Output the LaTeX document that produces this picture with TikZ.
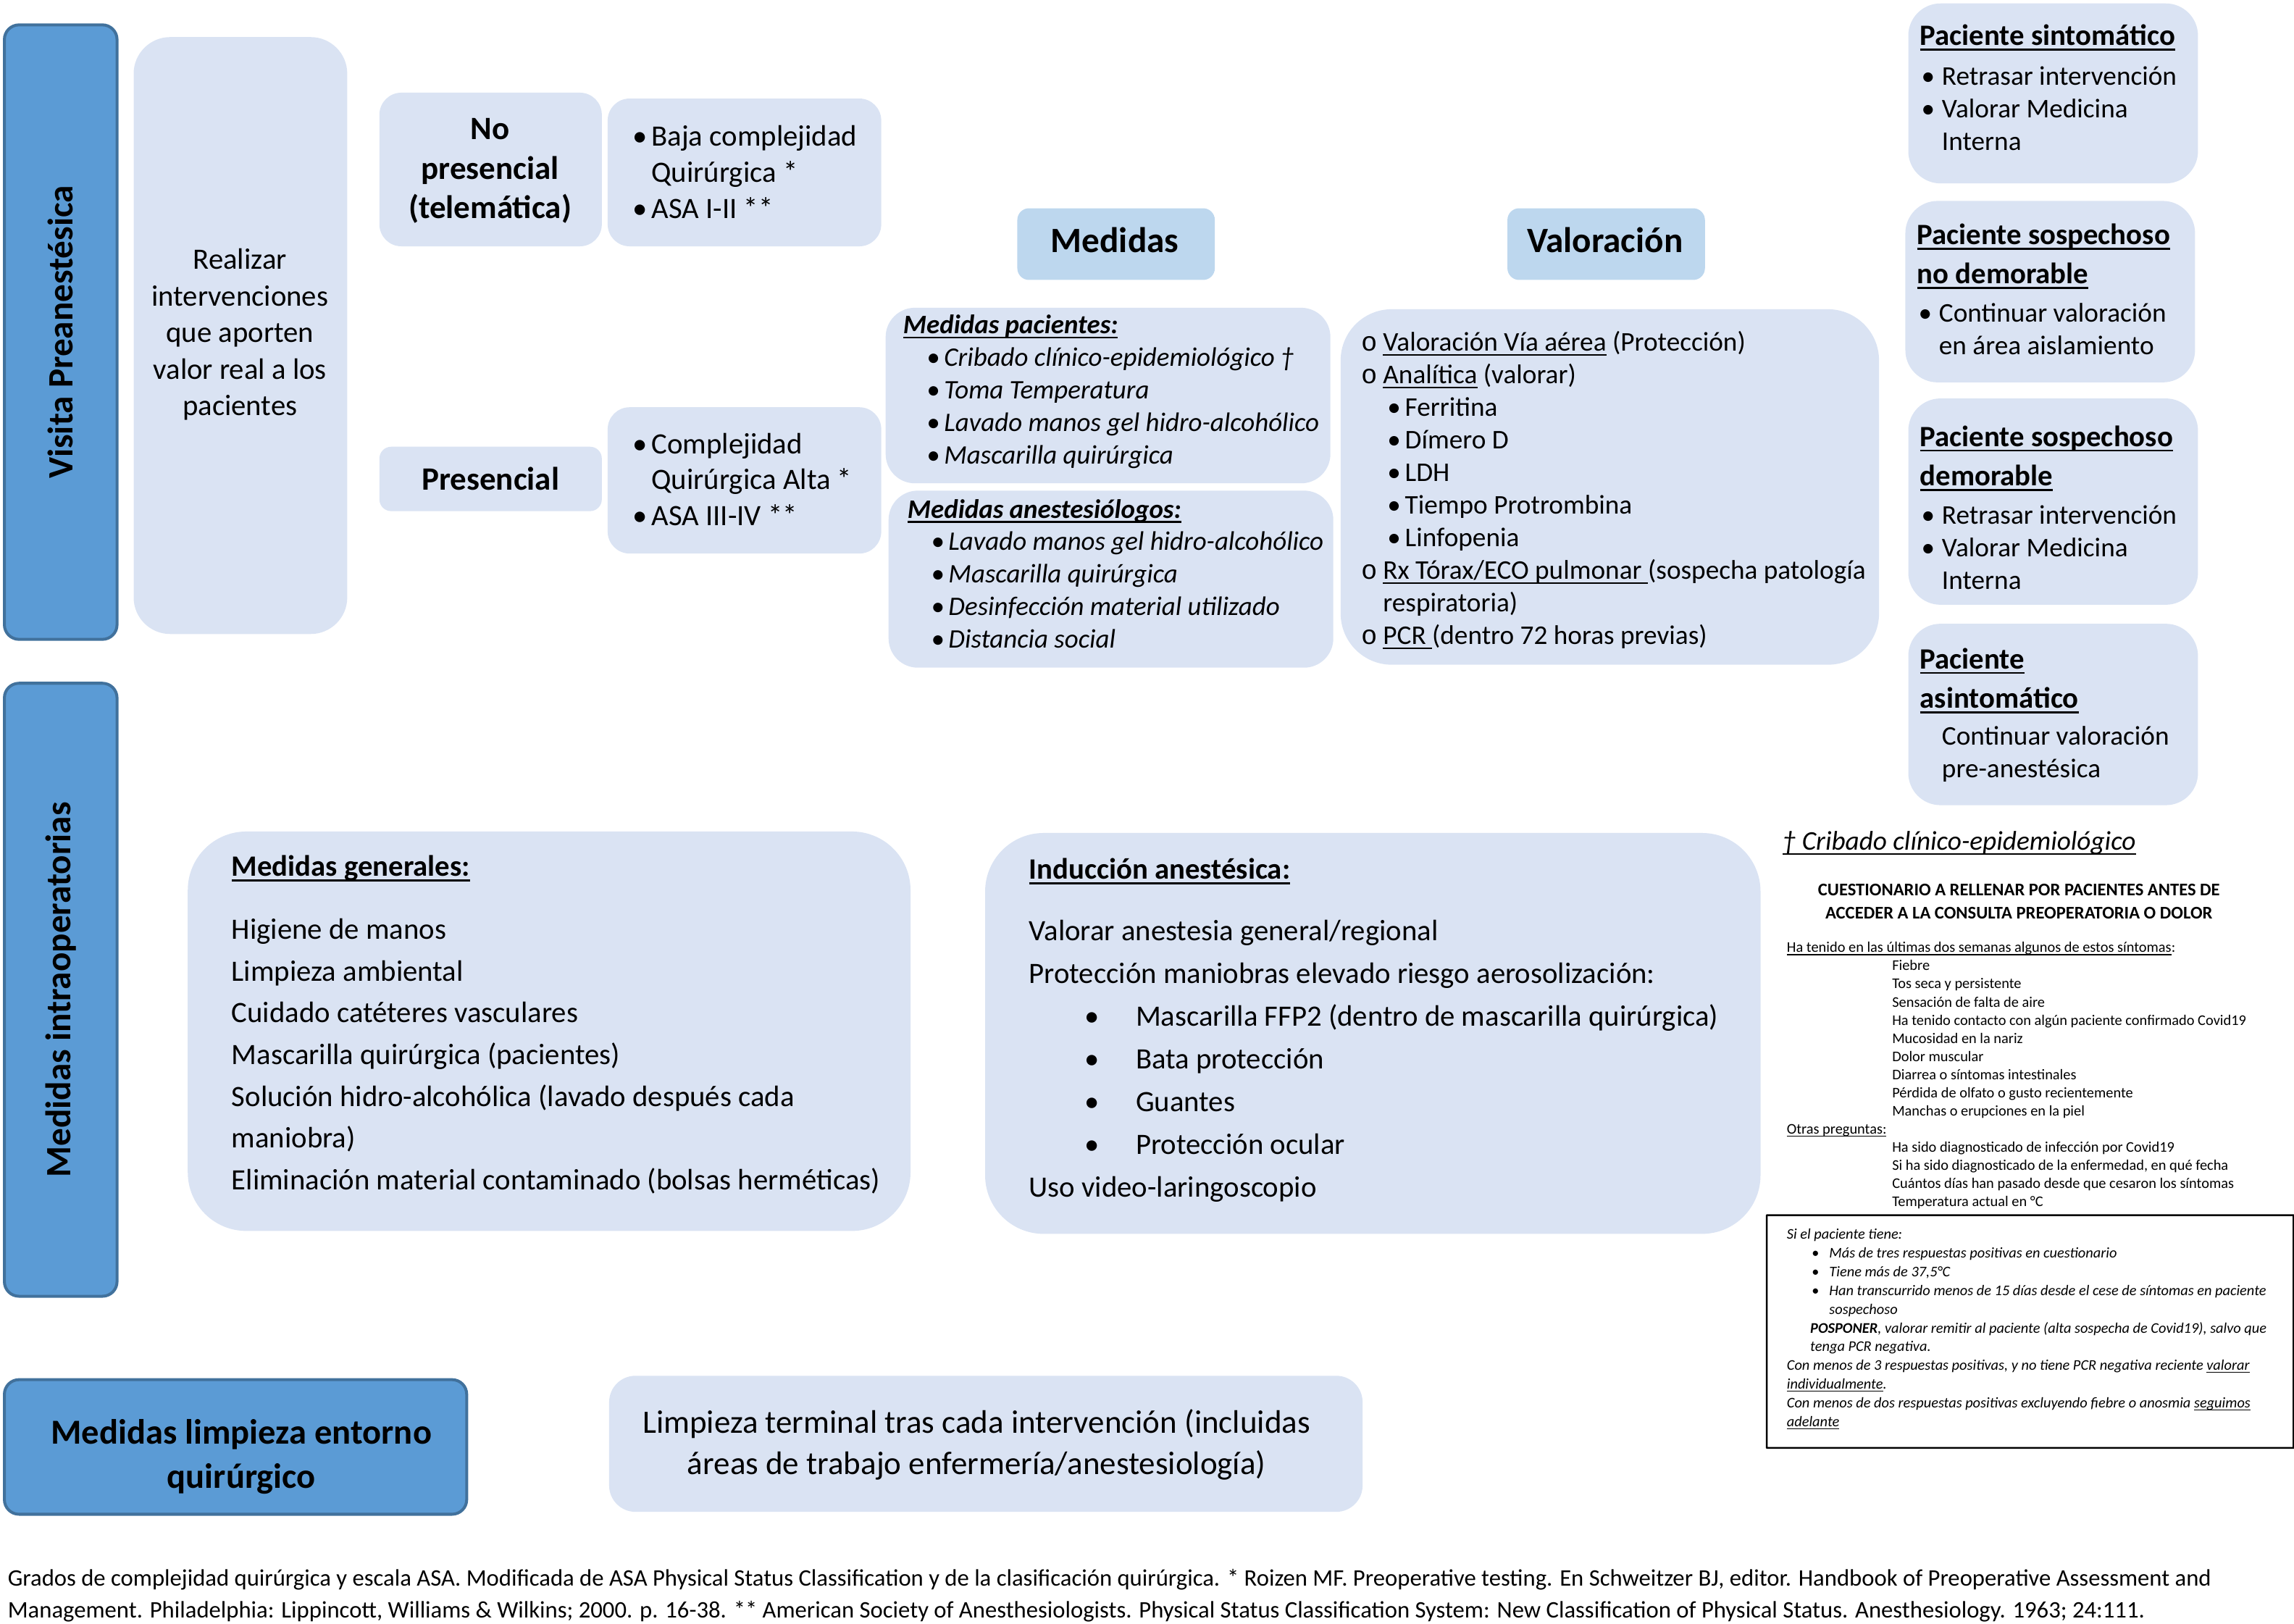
\documentclass[tikz,border=0pt]{standalone}
\usepackage{fontspec}
\setmainfont{Carlito}
\newfontfamily\monof{Liberation Mono}
\newlength\tpx \setlength\tpx{0.020198cm}
\definecolor{dkb}{HTML}{5B9BD5}
\definecolor{dkbd}{HTML}{41719C}
\definecolor{lb}{HTML}{DAE3F3}
\definecolor{hb}{HTML}{BDD7EE}
\newsavebox\ulbox
\newcommand{\ulx}[1]{\sbox\ulbox{#1}\rlap{\rule[-0.18em]{\wd\ulbox}{0.07em}}\usebox\ulbox}
\newcommand{\fs}[2]{\fontsize{#1}{#2}\selectfont}
\newcommand{\bul}[1]{\makebox[#1\tpx][l]{•}}
\newcommand{\sk}[1]{\hspace*{#1\tpx}}
\newcommand{\ob}{\makebox[15\tpx][l]{\monof o}}
\newcommand{\bx}[7]{\node[#2, rounded corners=#7\tpx, minimum width={(#5-#3)*\tpx}, minimum height={(#6-#4)*\tpx}, inner sep=0pt, anchor=north west] (#1) at (#3,#4) {};}
\tikzset{
  dark/.style={fill=dkb, draw=dkbd, line width=2\tpx},
  light/.style={fill=lb, draw=none},
  head/.style={fill=hb, draw=none},
  qframe/.style={draw=black, line width=0.7pt, fill=none},
  tb/.style={inner sep=0pt, anchor=base west},
  tc/.style={inner sep=0pt, anchor=center},
}
\begin{document}
\begin{tikzpicture}[x=0.020198cm, y=-0.020198cm]
\useasboundingbox (0,0) rectangle (1568,1110);
% ---------- boxes ----------
\bx{vp}{dark}{2}{16}{79}{436}{10}
\bx{real}{light}{91}{25}{237}{433}{25}
\bx{nop}{light}{259}{63}{411}{168}{15}
\bx{baja}{light}{415}{67}{602}{168}{15}
\bx{pres}{light}{259}{305}{411}{349}{8}
\bx{alta}{light}{415}{278}{602}{378}{15}
\bx{hmed}{head}{695}{142}{830}{191}{8}
\bx{hval}{head}{1030}{142}{1165}{191}{8}
\bx{mpac}{light}{605}{210}{909}{330}{20}
\bx{mane}{light}{607}{335}{911}{456}{20}
\bx{val}{light}{916}{211}{1284}{454}{35}
\bx{psin}{light}{1304}{2}{1502}{125}{22}
\bx{pnd}{light}{1302}{137}{1500}{261}{22}
\bx{pdem}{light}{1304}{272}{1502}{413}{22}
\bx{pasi}{light}{1304}{426}{1502}{550}{22}
\bx{qbox}{qframe}{1207}{830}{1567}{989}{0.1}
\bx{mi}{dark}{2}{466}{79}{885}{10}
\bx{mgen}{light}{128}{568}{622}{841}{40}
\bx{ind}{light}{673}{569}{1203}{843}{40}
\bx{mlq}{dark}{2}{942}{318}{1034}{10}
\bx{lim}{light}{416}{940}{931}{1033}{18}
% ---------- left column ----------
\node[rotate=90, inner sep=0pt, font=\bfseries\fs{14}{17}] (tvp) at (vp.center) {Visita Preanestésica};
\node[rotate=90, inner sep=0pt, font=\bfseries\fs{14}{17}] (tmi) at (mi.center) {Medidas intraoperatorias};
\node[tc] (tmlq) at (165,996) {\bfseries\fs{13.8}{17.2}\begin{tabular}{@{}c@{}}Medidas limpieza entorno\\quirúrgico\end{tabular}};
\node[tc] (treal) at (164,229) {\fs{11.6}{14.4}\begin{tabular}{@{}c@{}}Realizar\\intervenciones\\que aporten\\valor real a los\\pacientes\end{tabular}};
\node[tc] (tnop) at (335,117) {\bfseries\fs{12.8}{15.5}\begin{tabular}{@{}c@{}}No\\presencial\\(telemática)\end{tabular}};
\node[tc] (tpres) at (pres.center) {\bfseries\fs{12.8}{15.5}Presencial};
\node[tb] (tbaja) at (432,100) {\fs{11.6}{14.1}\begin{tabular}[t]{@{}l@{}}\bul{13}Baja complejidad\\\sk{13}Quirúrgica *\\\bul{13}ASA I-II **\end{tabular}};
\node[tb] (talta) at (432,310) {\fs{11.6}{14.1}\begin{tabular}[t]{@{}l@{}}\bul{13}Complejidad\\\sk{13}Quirúrgica Alta *\\\bul{13}ASA III-IV **\end{tabular}};
% ---------- Medidas / Valoración ----------
\node[tc] (thmed) at (762,164) {\bfseries\fs{14}{17}Medidas};
\node[tc] (thval) at (1097,164) {\bfseries\fs{14}{17}Valoración};
\node[tb] (tmpac) at (617,228) {\fs{10.5}{12.8}\begin{tabular}[t]{@{}l@{}}\ulx{\bfseries\itshape Medidas pacientes:}\\
\itshape\sk{16}\bul{12}Cribado clínico-epidemiológico †\\
\itshape\sk{16}\bul{12}Toma Temperatura\\
\itshape\sk{16}\bul{12}Lavado manos gel hidro-alcohólico\\
\itshape\sk{16}\bul{12}Mascarilla quirúrgica\end{tabular}};
\node[tb] (tmane) at (620,354) {\fs{10.5}{12.8}\begin{tabular}[t]{@{}l@{}}\ulx{\bfseries\itshape Medidas anestesiólogos:}\\
\itshape\sk{16}\bul{12}Lavado manos gel hidro-alcohólico\\
\itshape\sk{16}\bul{12}Mascarilla quirúrgica\\
\itshape\sk{16}\bul{12}Desinfección material utilizado\\
\itshape\sk{16}\bul{12}Distancia social\end{tabular}};
\node[tb] (tval) at (930,240) {\fs{10.6}{12.8}\begin{tabular}[t]{@{}l@{}}\ob\ulx{Valoración Vía aérea} (Protección)\\
\ob\ulx{Analítica} (valorar)\\
\sk{18}\bul{12}Ferritina\\
\sk{18}\bul{12}Dímero D\\
\sk{18}\bul{12}LDH\\
\sk{18}\bul{12}Tiempo Protrombina\\
\sk{18}\bul{12}Linfopenia\\
\ob\ulx{Rx Tórax/ECO pulmonar }(sospecha patología\\
\sk{15}respiratoria)\\
\ob\ulx{PCR }(dentro 72 horas previas)\end{tabular}};
% ---------- right column ----------
\node[tb] (hpsin) at (1312,31) {\bfseries\fs{11.6}{15.5}\ulx{Paciente sintomático}};
\node[tb] (bpsin) at (1313,58) {\fs{10.6}{12.9}\begin{tabular}[t]{@{}l@{}}\bul{14}Retrasar intervención\\\bul{14}Valorar Medicina\\\sk{14}Interna\end{tabular}};
\node[tb] (hpnd) at (1310,167) {\bfseries\fs{11.6}{15.5}\begin{tabular}[t]{@{}l@{}}\ulx{Paciente sospechoso}\\\ulx{no demorable}\end{tabular}};
\node[tb] (bpnd) at (1311,220) {\fs{10.6}{12.9}\begin{tabular}[t]{@{}l@{}}\bul{14}Continuar valoración\\\sk{14}en área aislamiento\end{tabular}};
\node[tb] (hpdem) at (1312,305) {\bfseries\fs{11.6}{15.5}\begin{tabular}[t]{@{}l@{}}\ulx{Paciente sospechoso}\\\ulx{demorable}\end{tabular}};
\node[tb] (bpdem) at (1313,358) {\fs{10.6}{12.9}\begin{tabular}[t]{@{}l@{}}\bul{14}Retrasar intervención\\\bul{14}Valorar Medicina\\\sk{14}Interna\end{tabular}};
\node[tb] (hpasi) at (1312,457) {\bfseries\fs{11.6}{15.5}\begin{tabular}[t]{@{}l@{}}\ulx{Paciente}\\\ulx{asintomático}\end{tabular}};
\node[tb] (bpasi) at (1327,509) {\fs{10.6}{12.9}\begin{tabular}[t]{@{}l@{}}Continuar valoración\\pre-anestésica\end{tabular}};
% ---------- cribado questionnaire ----------
\node[tb] (tcrib) at (1218,581) {\itshape\fs{10.6}{12}\ulx{† Cribado clínico-epidemiológico}};
\node[tc] (tcues) at (1380,617) {\bfseries\fs{7}{9.2}\begin{tabular}{@{}c@{}}CUESTIONARIO A RELLENAR POR PACIENTES ANTES DE\\ACCEDER A LA CONSULTA PREOPERATORIA O DOLOR\end{tabular}};
\node[tb] (tques) at (1221,651) {\fs{5.8}{7.13}\begin{tabular}[t]{@{}l@{}}\ulx{Ha tenido en las últimas dos semanas algunos de estos síntomas}:\\
\sk{72}Fiebre\\
\sk{72}Tos seca y persistente\\
\sk{72}Sensación de falta de aire\\
\sk{72}Ha tenido contacto con algún paciente confirmado Covid19\\
\sk{72}Mucosidad en la nariz\\
\sk{72}Dolor muscular\\
\sk{72}Diarrea o síntomas intestinales\\
\sk{72}Pérdida de olfato o gusto recientemente\\
\sk{72}Manchas o erupciones en la piel\\
\ulx{Otras preguntas:}\\
\sk{72}Ha sido diagnosticado de infección por Covid19\\
\sk{72}Si ha sido diagnosticado de la enfermedad, en qué fecha\\
\sk{72}Cuántos días han pasado desde que cesaron los síntomas\\
\sk{72}Temperatura actual en °C\end{tabular}};
\node[tb] (tqbox) at (1221,847) {\itshape\fs{5.8}{7.36}\begin{tabular}[t]{@{}l@{}}Si el paciente tiene:\\
\sk{17}\bul{12}Más de tres respuestas positivas en cuestionario\\
\sk{17}\bul{12}Tiene más de 37,5°C\\
\sk{17}\bul{12}Han transcurrido menos de 15 días desde el cese de síntomas en paciente\\
\sk{29}sospechoso\\
\sk{16}\textbf{POSPONER}, valorar remitir al paciente (alta sospecha de Covid19), salvo que\\
\sk{16}tenga PCR negativa.\\
Con menos de 3 respuestas positivas, y no tiene PCR negativa reciente \ulx{valorar}\\
\ulx{individualmente}.\\
Con menos de dos respuestas positivas excluyendo fiebre o anosmia \ulx{seguimos}\\
\ulx{adelante}\end{tabular}};
% ---------- intraoperatorias ----------
\node[tb] (hmgen) at (158,599) {\bfseries\fs{11.6}{14}\ulx{Medidas generales:}};
\node[tb] (tmgen) at (158,642) {\fs{11.6}{16.4}\begin{tabular}[t]{@{}l@{}}Higiene de manos\\
Limpieza ambiental\\
Cuidado catéteres vasculares\\
Mascarilla quirúrgica (pacientes)\\
Solución hidro-alcohólica (lavado después cada\\
maniobra)\\
Eliminación material contaminado (bolsas herméticas)\end{tabular}};
\node[tb] (hind) at (703,601) {\bfseries\fs{11.6}{14}\ulx{Inducción anestésica:}};
\node[tb] (tind) at (703,643) {\fs{11.6}{16.8}\begin{tabular}[t]{@{}l@{}}Valorar anestesia general/regional\\
Protección maniobras elevado riesgo aerosolización:\\
\sk{38}\bul{35}Mascarilla FFP2 (dentro de mascarilla quirúrgica)\\
\sk{38}\bul{35}Bata protección\\
\sk{38}\bul{35}Guantes\\
\sk{38}\bul{35}Protección ocular\\
Uso video-laringoscopio\end{tabular}};
\node[tc] (tlim) at (667.5,988) {\fs{12.8}{16.1}\begin{tabular}{@{}c@{}}Limpieza terminal tras cada intervención (incluidas\\áreas de trabajo enfermería/anestesiología)\end{tabular}};
% ---------- caption ----------
\node[tb] (tcap) at (5,1084) {\fs{9.3}{12.6}\begin{tabular}[t]{@{}l@{}}Grados de complejidad quirúrgica y escala ASA. Modificada de ASA Physical Status Classification y de la clasificación quirúrgica. * Roizen MF. Preoperative testing. En Schweitzer BJ, editor. Handbook of Preoperative Assessment and\\
Management. Philadelphia: Lippincott, Williams \& Wilkins; 2000. p. 16-38. ** American Society of Anesthesiologists. Physical Status Classification System: New Classification of Physical Status. Anesthesiology. 1963; 24:111.\end{tabular}};
\end{tikzpicture}
\end{document}
